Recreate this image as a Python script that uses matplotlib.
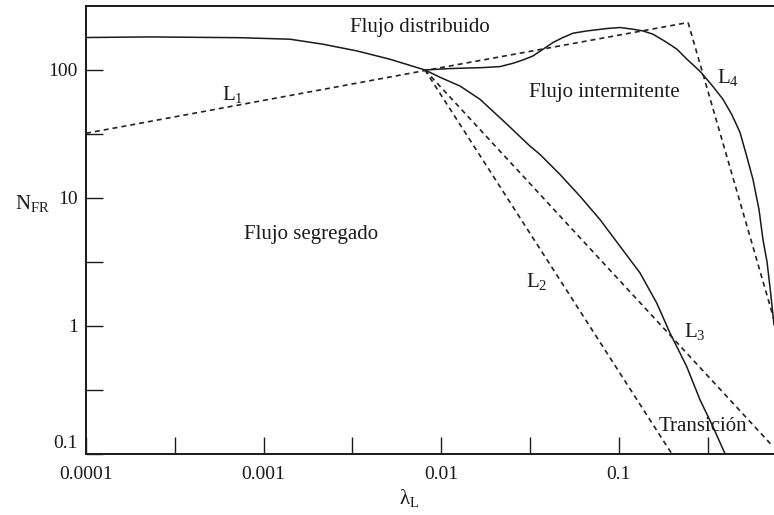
import matplotlib
matplotlib.use("Agg")
import matplotlib.pyplot as plt
import matplotlib.transforms as mtransforms

# lambda_L / N_FR values
# upper boundary (segregado/distribuido and intermitente/distribuido)
upper_lam = [1.0e-4, 2.293e-4, 7.364e-4, 1.408e-3, 2.160e-3, 3.356e-3, 5.148e-3, 8.103e-3,
             0.01121, 0.01719, 0.02144, 0.02537, 0.02888, 0.03287, 0.03742, 0.04260,
             0.04849, 0.05521, 0.06620, 0.08580, 0.1016, 0.1202, 0.1368, 0.1558,
             0.1868, 0.2127, 0.2421, 0.2866, 0.3348, 0.3861, 0.4321, 0.4813,
             0.5249, 0.5696, 0.6158, 0.6483, 0.6830, 0.7148, 0.7480]
upper_nfr = [179.4, 181.3, 178.8, 174.0, 159.0, 140.9, 121.3, 100,
             102.6, 104.4, 106.3, 112.8, 119.8, 128.7, 145.2, 163.9,
             179.4, 193.8, 202.0, 210.9, 214.8, 208.3, 202.0, 190.4,
             163.9, 145.2, 121.3, 97.7, 75.9, 58.96, 44.99, 32.53,
             21.21, 13.94, 8.115, 4.723, 3.177, 1.849, 1.020]

# lower boundary (segregado/intermitente)
lower_lam = [0.008103, 0.009845, 0.01276, 0.01654, 0.02287, 0.03162, 0.03599, 0.04665,
             0.06045, 0.07834, 0.1016, 0.1316, 0.1634, 0.1942, 0.2211, 0.2411,
             0.2866, 0.3392, 0.3963]
lower_nfr = [100, 87.7, 74.9, 58.96, 38.94, 25.40, 21.88, 15.25,
             10.31, 6.774, 4.186, 2.592, 1.509, 0.8782, 0.6123, 0.4808,
             0.2638, 0.1622, 0.1]

# dashed limits L1..L4 (straight lines on log-log)
L1_lam = [0.0001, 0.0081, 0.2455]
L1_nfr = [32, 99, 235]
L2_lam = [0.0081, 0.1986]
L2_nfr = [100, 0.1]
L3_lam = [0.0081, 0.738]
L3_nfr = [100, 0.114]
L4_lam = [0.2455, 0.748]
L4_nfr = [235, 1.12]

xticks = [1e-4, 3.162e-4, 1e-3, 3.162e-3, 1e-2, 3.162e-2, 1e-1, 3.162e-1]
xticklabels = ["0.0001", "", "0.001", "", "0.01", "", "0.1", ""]
yticks = [0.1, 0.3162, 1, 3.162, 10, 31.62, 100]
yticklabels = ["0.1", "", "1", "", "10", "", "100"]

plt.rcParams["font.family"] = ["Liberation Serif", "DejaVu Serif"]
plt.rcParams["mathtext.fontset"] = "custom"
plt.rcParams["mathtext.rm"] = "Liberation Serif"
plt.rcParams["mathtext.it"] = "Liberation Serif:italic"

ink = "#1a1a1a"
fig = plt.figure(figsize=(7.74, 5.15), dpi=100)
ax = fig.add_axes([0.1111, 0.1190, 0.8889, 0.8693])

ax.plot(upper_lam, upper_nfr, color=ink, lw=1.1)
ax.plot(lower_lam, lower_nfr, color=ink, lw=1.1)
for lam, nfr in [(L1_lam, L1_nfr), (L2_lam, L2_nfr), (L3_lam, L3_nfr), (L4_lam, L4_nfr)]:
    ax.plot(lam, nfr, color="#222222", lw=1.2, linestyle=(0, (3.0, 2.4)))

ax.set_xscale("log")
ax.set_yscale("log")
ax.set_xlim(1e-4, 0.748)
ax.set_ylim(0.1, 316.2)

ax.set_xticks(xticks, xticklabels)
ax.set_yticks(yticks, yticklabels)
ax.minorticks_off()
ax.tick_params(axis="both", direction="in", length=12.5, width=1.0, color=ink,
               labelsize=14, labelcolor=ink)
ax.tick_params(axis="x", pad=9)
ax.tick_params(axis="y", pad=6)

# lift the bottom y label a bit like the original
lab = ax.get_yticklabels()[0]
lab.set_transform(lab.get_transform() + mtransforms.ScaledTranslation(0, 12 / 100, fig.dpi_scale_trans))

ax.spines["right"].set_visible(False)
for s in ["left", "bottom", "top"]:
    ax.spines[s].set_linewidth(1.4)
    ax.spines[s].set_color(ink)

ax.set_ylabel(r"$\mathrm{N}_{\mathrm{FR}}$", rotation=0, fontsize=15, color=ink, ha="center", va="center")
ax.yaxis.set_label_coords(-0.077, 0.56)
ax.set_xlabel(r"$\mathrm{\lambda}_{\mathrm{L}}$", fontsize=15, color=ink, ha="center", va="center")
ax.xaxis.set_label_coords(0.4695, -0.099)

tk = dict(fontsize=15, color=ink, ha="center", va="center")
ax.text(0.0076, 216, "Flujo distribuido", **tk)
ax.text(0.0832, 66.9, "Flujo intermitente", **tk)
ax.text(0.00186, 5.16, "Flujo segregado", **tk)
ax.text(0.298, 0.163, "Transición", **tk)
ax.text(0.000673, 64.6, r"$\mathrm{L}_{1}$", **tk)
ax.text(0.0345, 2.23, r"$\mathrm{L}_{2}$", **tk)
ax.text(0.2685, 0.904, r"$\mathrm{L}_{3}$", **tk)
ax.text(0.412, 88, r"$\mathrm{L}_{4}$", **tk)

fig.savefig("out.png", dpi=100)
